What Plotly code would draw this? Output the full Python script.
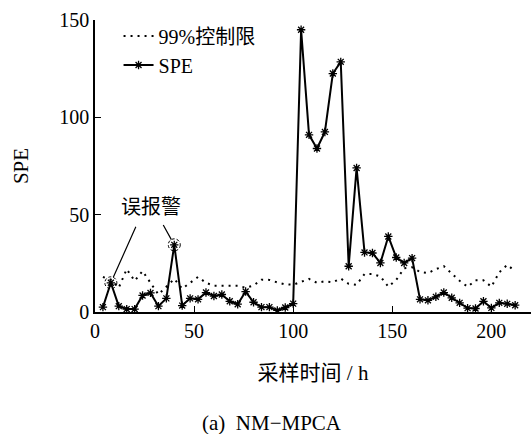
import plotly.graph_objects as go

# sampling time (h)
hours = list(range(4, 213, 4))
# SPE statistic
spe = [2.5, 15, 3, 1.5, 1.5, 8.5, 9.8, 3, 7, 34.5,
       3.3, 7, 6.5, 10, 8.2, 9, 5.5, 4, 10.5, 5,
       2.5, 2.5, 0.8, 2.3, 4.3,
       145, 91, 84, 92.5, 122.5, 128.5, 23.5, 74, 30.6, 30.3,
       25.2, 38.8, 28, 25.2, 27.7, 6.5, 6, 7.8, 10, 7.3,
       4.7, 2, 1.8, 5.5, 2.1, 4.7, 4.2, 3.5]
# 99% control limit
limit = [18, 16.5, 12.5, 22, 16, 21, 15, 9, 13, 17,
         12, 15, 18, 15, 13.5, 13.5, 13.5, 13.5, 12.5, 13.6,
         16.6, 16.5, 15.2, 14.2, 14,
         15.5, 17, 15, 15.8, 15.3, 17.2, 14.5, 14, 19.5, 19.5,
         18.3, 13, 16.5, 22.5, 23, 20.5, 20, 22, 23.5, 19.7,
         16, 13, 16.3, 16.3, 13, 20.4, 24.2, 21]

x_ticks = [0, 50, 100, 150, 200]
y_ticks = [0, 50, 100, 150]

# false alarm points (index into series)
alarm_idx = [1, 9]

FONT = "Times New Roman, Noto Sans CJK SC"

fig = go.Figure()
fig.add_trace(go.Scatter(
    x=hours, y=limit, mode="lines", name="99%控制限",
    line=dict(color="black", width=2, dash="2px,5px"),
))
fig.add_trace(go.Scatter(
    x=hours, y=spe, mode="lines+markers", name="SPE",
    line=dict(color="black", width=2),
    marker=dict(symbol="asterisk", size=7, color="black",
                line=dict(color="black", width=1.3)),
))

for i in alarm_idx:
    fig.add_shape(type="circle", xref="x", yref="y",
                  xsizemode="pixel", ysizemode="pixel",
                  xanchor=hours[i], yanchor=spe[i],
                  x0=-6, x1=6, y0=-6, y1=6,
                  line=dict(color="black", width=1, dash="3px,2px"))

fig.add_annotation(x=28.5, y=54, xref="x", yref="y", text="误报警",
                   showarrow=False, font=dict(size=20, family=FONT, color="black"))
fig.add_annotation(x=hours[alarm_idx[0]], y=spe[alarm_idx[0]], xref="x", yref="y",
                   text=" ", showarrow=True, arrowhead=0, arrowwidth=1.2,
                   arrowcolor="black", ax=29, ay=-65, standoff=6)
fig.add_annotation(x=hours[alarm_idx[1]], y=spe[alarm_idx[1]], xref="x", yref="y",
                   text=" ", showarrow=True, arrowhead=0, arrowwidth=1.2,
                   arrowcolor="black", ax=-15, ay=-27, standoff=6)

fig.add_annotation(x=0.405, y=0.0, xref="paper", yref="paper",
                   xanchor="center", yanchor="middle", yshift=-111,
                   text="(a)  NM\u2212MPCA", showarrow=False,
                   font=dict(size=21, family=FONT, color="black"))

fig.update_layout(
    width=532, height=434,
    margin=dict(l=95, r=1, t=20, b=122),
    paper_bgcolor="white", plot_bgcolor="white",
    font=dict(family=FONT, size=20, color="black"),
    showlegend=True,
    legend=dict(x=0.054, y=1.012, xanchor="left", yanchor="top",
                bgcolor="rgba(0,0,0,0)", font=dict(size=20, family=FONT),
                tracegroupgap=0),
    xaxis=dict(range=[0, 220], tickvals=x_ticks, ticks="inside", ticklen=6,
               tickcolor="black", showline=True, linecolor="black", linewidth=1.5,
               showgrid=False, zeroline=False, automargin=False,
               title=dict(text="采样时间 / h", font=dict(size=21, family=FONT), standoff=25),
               tickfont=dict(size=20, family=FONT)),
    yaxis=dict(range=[0, 150], tickvals=y_ticks, ticks="inside", ticklen=6,
               tickcolor="black", showline=True, linecolor="black", linewidth=1.5,
               showgrid=False, zeroline=False, automargin=False,
               title=dict(text="SPE", font=dict(size=21, family=FONT), standoff=25),
               tickfont=dict(size=20, family=FONT)),
)

fig.write_html("out.html", config={"displayModeBar": False},
               post_script="document.body.style.margin='0';")
